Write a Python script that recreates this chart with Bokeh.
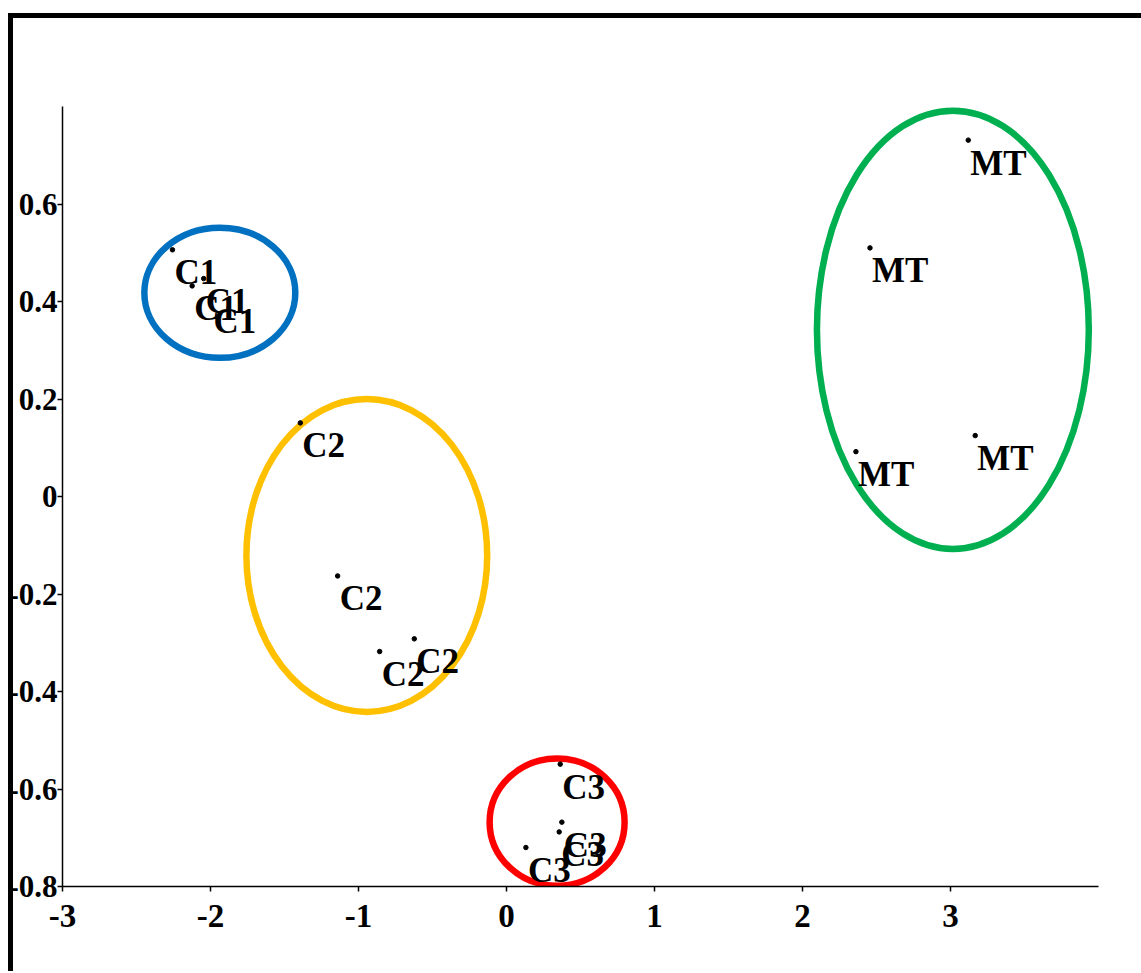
from bokeh.plotting import figure
from bokeh.models import Range1d, FixedTicker, CustomJSTickFormatter, ColumnDataSource
from bokeh.core.properties import value
from bokeh.embed import file_html
from bokeh.resources import INLINE

# ---- data ----
labels = ["C1", "C1", "C1", "C1",
          "C2", "C2", "C2", "C2",
          "C3", "C3", "C3", "C3",
          "MT", "MT", "MT", "MT"]
xs = [-2.257, -2.124, -2.046, -1.994,
      -1.393, -1.141, -0.857, -0.623,
      0.363, 0.374, 0.356, 0.131,
      3.120, 2.456, 2.361, 3.167]
ys = [0.506, 0.432, 0.447, 0.406,
      0.151, -0.163, -0.318, -0.292,
      -0.549, -0.668, -0.688, -0.720,
      0.731, 0.510, 0.092, 0.125]

# cluster ellipses
ell_x = [-1.937, -0.944, 0.342, 3.016]
ell_y = [0.418, -0.121, -0.668, 0.342]
ell_w = [1.02, 1.627, 0.912, 1.837]
ell_h = [0.267, 0.642, 0.261, 0.899]
ell_colors = ["#0070C0", "#FFC000", "#FF0000", "#00B050"]

x_ticks = [-3, -2, -1, 0, 1, 2, 3]
y_ticks = [-0.8, -0.6, -0.4, -0.2, 0, 0.2, 0.4, 0.6]

FONT = "Liberation Serif"

p = figure(width=1136, height=958, output_backend="svg", toolbar_location=None,
           x_range=Range1d(-3, 4), y_range=Range1d(-0.8, 0.8),
           min_border_left=57, min_border_top=93, min_border_right=43, min_border_bottom=85)
p.styles = {"box-shadow": "inset 3px 0 0 0 white, inset 8px 5px 0 0 black",
            "margin-top": "13px", "margin-left": "5px"}
p.border_fill_color = None
p.background_fill_color = "white"
p.outline_line_color = None
p.xgrid.visible = False
p.ygrid.visible = False

ell_src = ColumnDataSource(dict(x=ell_x, y=ell_y, w=ell_w, h=ell_h, c=ell_colors))
p.ellipse(x="x", y="y", width="w", height="h", source=ell_src,
          fill_color=None, line_color="c", line_width=6.5)

src = ColumnDataSource(dict(x=xs, y=ys, t=labels))
p.scatter(x="x", y="y", source=src, size=4.5, color="black")
p.text(x="x", y="y", text="t", source=src, text_font=value(FONT), text_font_style="bold",
       text_font_size="35px", text_color="black", text_align="left",
       text_baseline="alphabetic", x_offset=2, y_offset=23)

for ax in (p.xaxis[0], p.yaxis[0]):
    ax.axis_line_color = "black"
    ax.axis_line_width = 1.5
    ax.major_tick_line_color = "black"
    ax.major_tick_line_width = 1.5
    ax.major_tick_out = 5
    ax.major_tick_in = 0
    ax.minor_tick_line_color = None
    ax.major_label_text_font = FONT
    ax.major_label_text_font_style = "bold"
    ax.major_label_text_color = "black"

p.xaxis[0].major_label_text_font_size = "33px"
p.yaxis[0].major_label_text_font_size = "31px"
p.xaxis[0].ticker = FixedTicker(ticks=x_ticks)
p.yaxis[0].ticker = FixedTicker(ticks=y_ticks)
p.xaxis[0].major_label_standoff = 13
p.yaxis[0].major_label_standoff = 0
p.xaxis[0].formatter = CustomJSTickFormatter(code="return tick.toFixed(0);")
p.yaxis[0].formatter = CustomJSTickFormatter(
    code="return Math.abs(tick) < 1e-9 ? '0' : tick.toFixed(1);")

open("out.html", "w").write(file_html(p, INLINE))
